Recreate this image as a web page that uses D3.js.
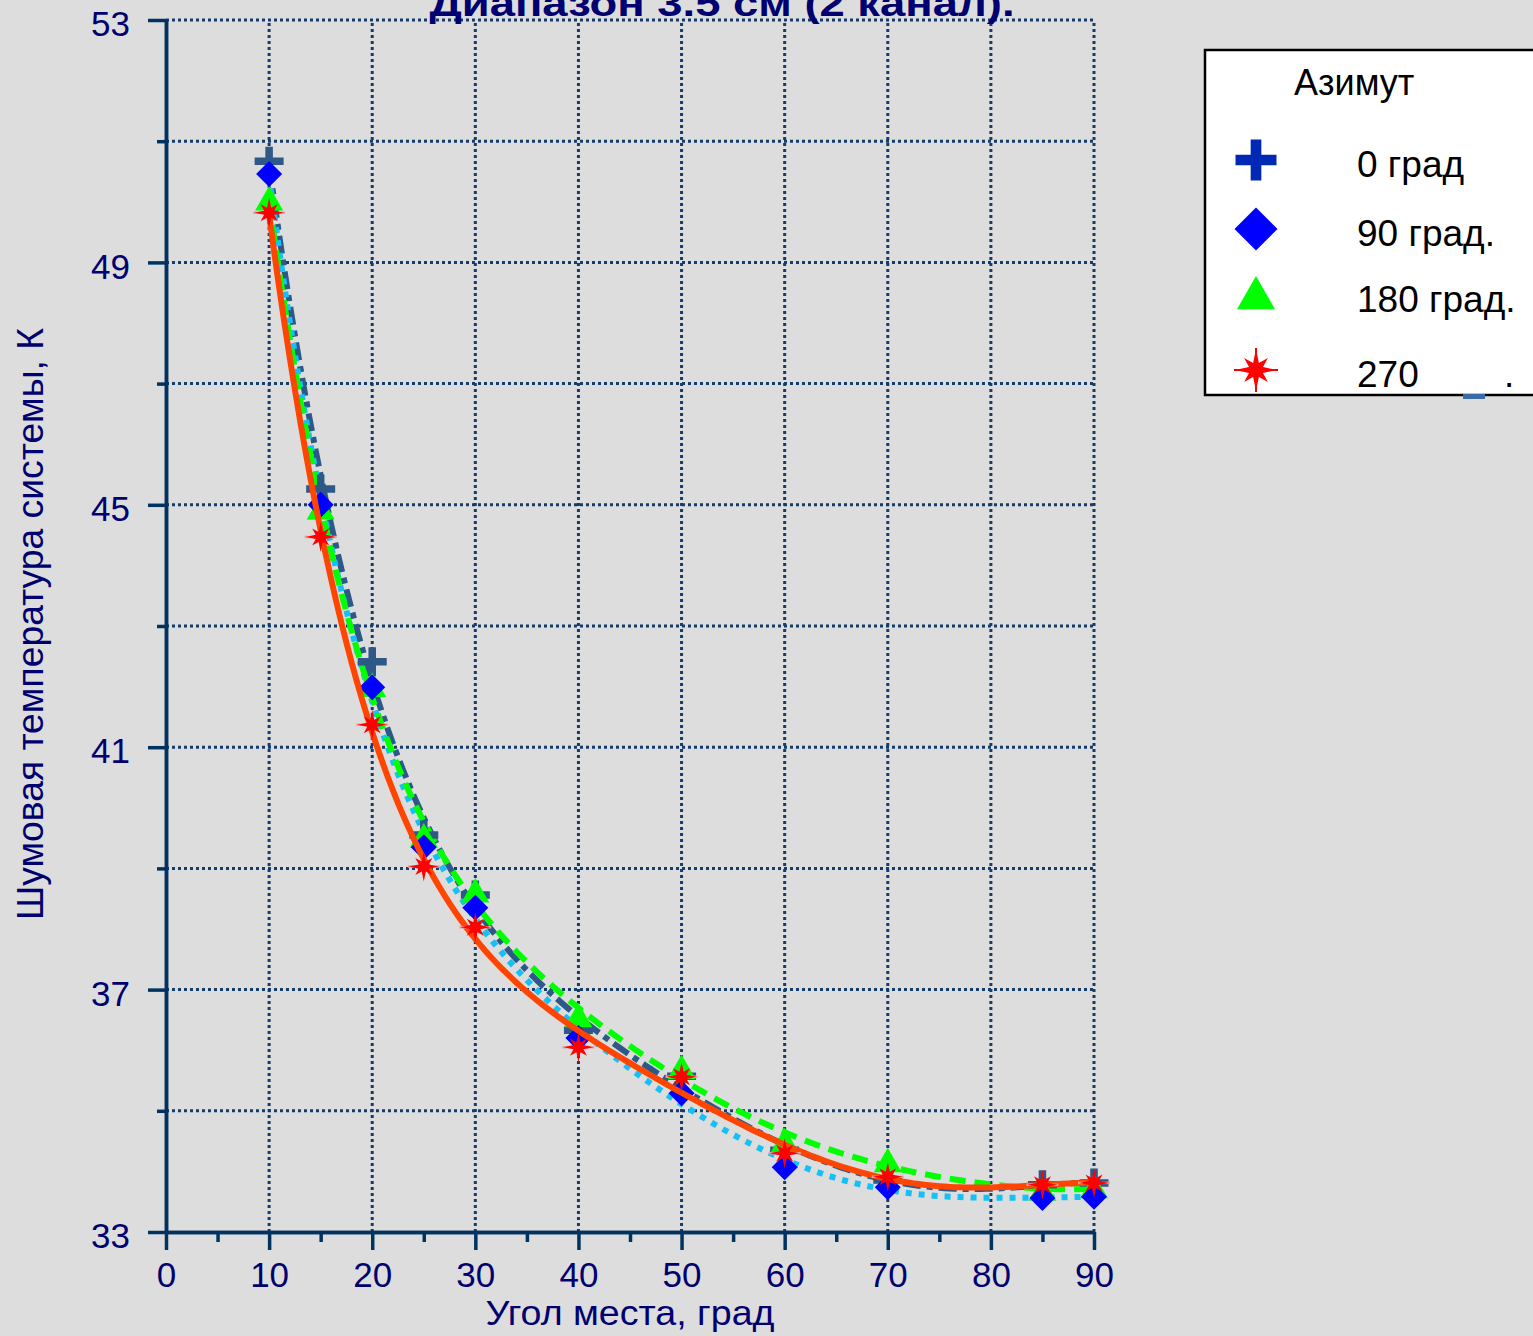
<!DOCTYPE html>
<html lang="ru">
<head>
<meta charset="utf-8">
<title>Диапазон 3.5 см (2 канал)</title>
<script src="https://d3js.org/d3.v7.min.js"></script>
<style>
  body { margin: 0; background: #dddddd; font-family: "Liberation Sans", Arial, sans-serif; }
  svg text { fill: #000070; }
</style>
</head>
<body>
<div id="chart"></div>
<script>
// ---- data ----
var angles = [10, 15, 20, 25, 30, 40, 50, 60, 70, 85, 90];
var az0   = [50.67, 45.26, 42.41, 39.55, 38.56, 36.33, 35.57, 34.35, 33.86, 33.78, 33.81];
var az90  = [50.46, 45.00, 41.99, 39.35, 38.35, 36.20, 35.29, 34.07, 33.74, 33.56, 33.58];
var az180 = [50.03, 44.93, 42.00, 39.52, 38.61, 36.55, 35.70, 34.49, 34.16, 33.69, 33.73];
var az270 = [49.82, 44.47, 41.37, 39.03, 38.03, 36.05, 35.56, 34.30, 33.91, 33.78, 33.81];
var seriesNames = ["0 град", "90 град.", "180 град.", "270"];
var xTicks = [0, 10, 20, 30, 40, 50, 60, 70, 80, 90];
var yTicks = [33, 37, 41, 45, 49, 53];

var width = 1533, height = 1336;
var svg = d3.select("#chart").append("svg")
    .attr("width", width).attr("height", height);

svg.append("rect").attr("width", width).attr("height", height).attr("fill", "#dddddd");

var x = d3.scaleLinear().domain([0, 90]).range([166, 1094]);
var y = d3.scaleLinear().domain([33, 53]).range([1232, 20]);

// grid
var gridColor = "#163c6a";
svg.append("g").selectAll("line.h")
    .data(d3.range(35, 54, 2))
    .enter().append("line")
    .attr("x1", x(0)).attr("x2", x(90))
    .attr("y1", function(d) { return y(d); }).attr("y2", function(d) { return y(d); })
    .attr("stroke", gridColor).attr("stroke-width", 3).attr("stroke-dasharray", "3,3");
svg.append("g").selectAll("line.v")
    .data(d3.range(10, 91, 10))
    .enter().append("line")
    .attr("y1", y(33)).attr("y2", y(53))
    .attr("x1", function(d) { return x(d); }).attr("x2", function(d) { return x(d); })
    .attr("stroke", gridColor).attr("stroke-width", 3).attr("stroke-dasharray", "3,3");

// axes
var axisColor = "#00335f";
function styleAxis(g) {
  g.selectAll("path, line").attr("stroke", axisColor).attr("stroke-width", 3.5);
  g.selectAll("text").attr("fill", "#000070")
    .style("font-family", "'Liberation Sans', Arial, sans-serif");
}
svg.append("g").attr("transform", "translate(" + x(0) + ",0)")
  .call(d3.axisLeft(y).tickValues(d3.range(35, 52, 4)).tickSize(9).tickSizeOuter(0).tickFormat(""))
  .call(styleAxis);
svg.append("g").attr("transform", "translate(" + x(0) + ",0)")
  .call(d3.axisLeft(y).tickValues(yTicks).tickSize(18).tickSizeOuter(0).tickPadding(18))
  .call(styleAxis)
  .call(function(g) {
    g.selectAll("text").style("font-size", "35px").attr("dy", "0.45em");
  });
svg.append("g").attr("transform", "translate(0," + y(33) + ")")
  .call(d3.axisBottom(x).tickValues(d3.range(5, 90, 10)).tickSize(10).tickSizeOuter(0).tickFormat(""))
  .call(styleAxis);
svg.append("g").attr("transform", "translate(0," + y(33) + ")")
  .call(d3.axisBottom(x).tickValues(xTicks).tickSize(18).tickSizeOuter(0).tickPadding(12))
  .call(styleAxis)
  .call(function(g) {
    g.selectAll("text").style("font-size", "35px").attr("dy", "0.71em");
  });

// titles (the chart title is cut by the top edge, as in the original)
svg.append("text")
  .attr("x", 722).attr("y", 16)
  .attr("text-anchor", "middle")
  .style("font-size", "37px").style("font-weight", "bold")
  .attr("textLength", 585).attr("lengthAdjust", "spacingAndGlyphs")
  .text("Диапазон 3.5 см (2 канал).");
svg.append("text")
  .attr("x", 630).attr("y", 1325)
  .attr("text-anchor", "middle")
  .style("font-size", "35px")
  .attr("textLength", 289).attr("lengthAdjust", "spacingAndGlyphs")
  .text("Угол места, град");
svg.append("text")
  .attr("transform", "translate(43,624) rotate(-90)")
  .attr("text-anchor", "middle")
  .style("font-size", "36px")
  .attr("textLength", 592).attr("lengthAdjust", "spacingAndGlyphs")
  .text("Шумовая температура системы, К");

// polynomial trend line (least squares)
function polyfit(xs, ys, deg) {
  var n = deg + 1, A = [], i, j, k;
  for (i = 0; i < n; i++) { A.push(new Array(n + 1).fill(0)); }
  xs.forEach(function(xv, idx) {
    var t = (xv - 50) / 40;
    for (i = 0; i < n; i++) {
      for (j = 0; j < n; j++) A[i][j] += Math.pow(t, i + j);
      A[i][n] += Math.pow(t, i) * ys[idx];
    }
  });
  for (i = 0; i < n; i++) {
    var p = i;
    for (k = i + 1; k < n; k++) if (Math.abs(A[k][i]) > Math.abs(A[p][i])) p = k;
    var tmp = A[i]; A[i] = A[p]; A[p] = tmp;
    for (k = i + 1; k < n; k++) {
      var f = A[k][i] / A[i][i];
      for (j = i; j <= n; j++) A[k][j] -= f * A[i][j];
    }
  }
  var c = new Array(n).fill(0);
  for (i = n - 1; i >= 0; i--) {
    var s = A[i][n];
    for (j = i + 1; j < n; j++) s -= A[i][j] * c[j];
    c[i] = s / A[i][i];
  }
  return function(xv) {
    var t = (xv - 50) / 40, v = 0;
    for (var q = 0; q < n; q++) v += c[q] * Math.pow(t, q);
    return v;
  };
}

var line = d3.line()
  .x(function(d) { return x(d[0]); })
  .y(function(d) { return y(d[1]); });

function trend(vals, color, dash) {
  var f = polyfit(angles, vals, 6);
  var pts = d3.range(10, 90.01, 0.5).map(function(a) { return [a, f(a)]; });
  svg.append("path").datum(pts)
    .attr("d", line)
    .attr("fill", "none")
    .attr("stroke", color)
    .attr("stroke-width", 6)
    .attr("stroke-dasharray", dash);
}

// marker shapes
function plusPath(s) {
  var a = s / 2, b = s * 0.13;
  return "M" + (-a) + "," + (-b) + "H" + (-b) + "V" + (-a) + "H" + b + "V" + (-b) + "H" + a +
         "V" + b + "H" + b + "V" + a + "H" + (-b) + "V" + b + "H" + (-a) + "Z";
}
function diamondPath(s) {
  var a = s / 2;
  return "M0," + (-a) + "L" + a + ",0L0," + a + "L" + (-a) + ",0Z";
}
function trianglePath(s) {
  var a = s / 2;
  return "M0," + (-a) + "L" + a + "," + (a * 0.75) + "L" + (-a) + "," + (a * 0.75) + "Z";
}
function starPath(s) {
  var pts = [], R = s / 2;
  for (var i = 0; i < 16; i++) {
    var ang = i * Math.PI / 8 - Math.PI / 2;
    var r = (i % 2) ? R * 0.36 : ((i % 4) ? R * 0.8 : R);
    pts.push([r * Math.cos(ang), r * Math.sin(ang)]);
  }
  return "M" + pts.map(function(p) { return p[0].toFixed(2) + "," + p[1].toFixed(2); }).join("L") + "Z";
}

function markers(vals, pathFn, size, color) {
  svg.append("g").selectAll("path")
    .data(vals)
    .enter().append("path")
    .attr("transform", function(d, i) { return "translate(" + x(angles[i]) + "," + y(d) + ")"; })
    .attr("d", pathFn(size))
    .attr("fill", color);
}

trend(az0, "#2d5888", "18,6,6,6");
trend(az90, "#14c0f5", "6,7");
trend(az180, "#00ff00", "16,9");
markers(az0, plusPath, 29, "#2d5888");
markers(az180, trianglePath, 28, "#00ff00");
markers(az90, diamondPath, 26, "#0000ff");
trend(az270, "#ff4500", null);

// stars with a thin pale bar
svg.append("g").selectAll("line")
  .data(az270)
  .enter().append("line")
  .attr("x1", function(d, i) { return x(angles[i]) - 16; })
  .attr("x2", function(d, i) { return x(angles[i]) + 16; })
  .attr("y1", function(d) { return y(d); }).attr("y2", function(d) { return y(d); })
  .attr("stroke", "#e8a3a3").attr("stroke-width", 2.5);
markers(az270, starPath, 30, "#ff0000");

// legend
var lg = svg.append("g");
lg.append("rect")
  .attr("x", 1205).attr("y", 50).attr("width", 360).attr("height", 345)
  .attr("fill", "#ffffff").attr("stroke", "#000000").attr("stroke-width", 2.5);
lg.append("text").attr("x", 1294).attr("y", 95)
  .style("font-size", "36px").style("fill", "#000000").text("Азимут");

var legendShapes = [
  { fn: plusPath, size: 41, color: "#0028b4" },
  { fn: diamondPath, size: 43, color: "#0000ff" },
  { fn: trianglePath, size: 38, color: "#00ff00" },
  { fn: starPath, size: 42, color: "#ff0000" }
];
var legendY = [160, 229, 295, 370];
seriesNames.forEach(function(name, i) {
  if (i == 3) {
    lg.append("line").attr("x1", 1234).attr("x2", 1278)
      .attr("y1", legendY[i]).attr("y2", legendY[i])
      .attr("stroke", "#ff0000").attr("stroke-width", 2);
    lg.append("line").attr("x1", 1256).attr("x2", 1256)
      .attr("y1", legendY[i] - 22).attr("y2", legendY[i] + 22)
      .attr("stroke", "#ff0000").attr("stroke-width", 2);
  }
  lg.append("path")
    .attr("transform", "translate(1256," + legendY[i] + ")")
    .attr("d", legendShapes[i].fn(legendShapes[i].size))
    .attr("fill", legendShapes[i].color);
  lg.append("text").attr("x", 1357).attr("y", legendY[i] + 17)
    .style("font-size", "37px").style("fill", "#000000").text(name);
});
lg.append("text").attr("x", 1504).attr("y", 387)
  .style("font-size", "37px").style("fill", "#000000").text(".");
lg.append("rect").attr("x", 1463).attr("y", 394).attr("width", 22).attr("height", 5)
  .attr("fill", "#3a6aa8");
</script>
</body>
</html>
